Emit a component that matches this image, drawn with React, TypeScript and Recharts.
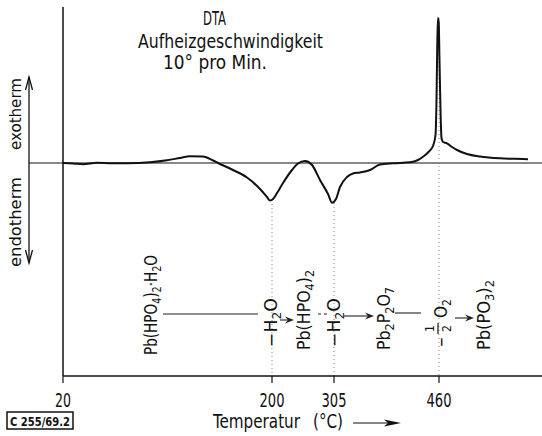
import React from 'react';
import { LineChart, Line, XAxis, YAxis, ReferenceLine, ReferenceDot } from 'recharts';

const FONT = "'Liberation Sans Narrow', 'DejaVu Sans Condensed', 'Liberation Sans', Arial, sans-serif";

// recorder chart position (pen travel, arbitrary units) - temperature scale is non-linear
const positions = [0,10,20,34,49,64,87,104,117,127,140,150,155,170,184,197,204,207,210,214,220,229,235,242,249,257,265,269,273,277,284,290,297,307,317,330,347,355,361,365,370,372.5,373.5,374.2,374.9,375.7,376.5,377.5,378.5,380,384,389,394,404,417,437,452,465];
// DTA deflection (arbitrary units, + = exotherm)
const dtaSignal = [0,-0.05,-0.13,0.03,-0.03,-0.03,0.07,0.27,0.5,0.67,0.65,0.25,0,-0.7,-1.45,-2.6,-3.4,-3.75,-3.6,-3.0,-2.0,-0.7,-0.05,0.2,-0.2,-1.7,-3.1,-3.97,-3.6,-2.4,-1.4,-1.05,-0.95,-0.7,-0.15,-0.03,0.07,0.3,0.7,1.05,1.7,2.8,6.3,11.3,14.5,14.1,10.3,5.3,2.5,2.1,1.97,1.6,1.3,0.9,0.65,0.47,0.42,0.37];

const tickPositions = [0, 209, 271, 376];
const tickLabels = ['20', '200', '305', '460'];
const tickWidths = [16, 25, 25, 25];

const transitionPositions = [209, 271, 376];
const transitionSignal = [-3.7, -4.0, 14.5];

const reactionLabels = ['Pb(HPO_4)_2·H_2O', '−H_2O', 'Pb(HPO_4)_2', '−H_2O', 'Pb_2P_2O_7', '−½O_2', 'Pb(PO_3)_2'];
const reactionPositions = [94, 214, 247, 277, 327, 384, 427];
const reactionBottoms = [-19.2, -18.4, -18.7, -18.4, -18.7, -18.4, -18.7];
const reactionLengths = [100, 49, 80, 49, 63, 49, 70];

const arrowFrom = [100, 217, 255, 281, 332, 392];
const arrowTo = [195, 231, 264, 311, 358, 411];
const arrowLevel = [-15.1, -15.7, -15.1, -15.3, -15.0, -15.5];
const arrowHead = [false, true, false, true, false, true];
const arrowDashed = [false, false, true, false, false, false];

const data = positions.map((p, i) => ({ pos: p, dta: dtaSignal[i] }));

function formulaSpans(label: string) {
  const parts = label.split(/(_.)/).filter(Boolean);
  let sub = false;
  return parts.map((p, i) => {
    if (p.startsWith('_')) {
      const el = <tspan key={i} dy={sub ? 0 : 4} fontSize={12}>{p[1]}</tspan>;
      sub = true;
      return el;
    }
    const el = <tspan key={i} dy={sub ? -4 : 0}>{p}</tspan>;
    sub = false;
    return el;
  });
}

const makeFormulaShape = (label: string, len: number) => (props: any) => {
  const { cx, cy } = props;
  if (label.includes('½')) {
    return (
      <g transform={`translate(${cx},${cy}) rotate(-90)`} fontFamily={FONT} fill="#111">
        <text x={0} y={0} fontSize={17} textLength={10} lengthAdjust="spacingAndGlyphs">−</text>
        <text x={15} y={-13} fontSize={12}>1</text>
        <line x1={13} x2={24} y1={-9} y2={-9} stroke="#111" strokeWidth={1.2} />
        <text x={15} y={4} fontSize={12}>2</text>
        <text x={29} y={0} fontSize={17}>O<tspan dy={4} fontSize={12}>2</tspan></text>
      </g>
    );
  }
  return (
    <text
      transform={`translate(${cx},${cy}) rotate(-90)`}
      fontFamily={FONT}
      fontSize={17}
      fill="#111"
      textLength={len}
      lengthAdjust="spacingAndGlyphs"
    >
      {formulaSpans(label)}
    </text>
  );
};

const makeArrowShape = (head: boolean, dashed: boolean) => (props: any) => {
  const { x1, y1, x2, y2 } = props;
  return (
    <g>
      <line x1={x1} y1={y1} x2={head ? x2 - 4 : x2} y2={y2} stroke="#222" strokeWidth={1.1} strokeDasharray={dashed ? '3 3' : undefined} />
      {head && (
        <polygon points={`${x2 - 9},${y2 - 3.5} ${x2},${y2} ${x2 - 9},${y2 + 3.5} ${x2 - 6},${y2}`} fill="#222" />
      )}
    </g>
  );
};

const TempTick = (props: any) => {
  const { x, y, payload } = props;
  const idx = tickPositions.indexOf(payload.value);
  return (
    <text x={x} y={y + 22} textAnchor="middle" fontFamily={FONT} fontSize={19} fill="#111"
      textLength={tickWidths[idx]} lengthAdjust="spacingAndGlyphs">
      {tickLabels[idx]}
    </text>
  );
};

export default function App() {
  return (
    <div style={{ position: 'absolute', left: 0, top: 0, width: 542, height: 436, background: '#fff' }}>
      <LineChart width={542} height={436} data={data} margin={{ top: 7, right: 0, bottom: 30, left: 63 }}>
        <XAxis
          type="number"
          dataKey="pos"
          domain={[0, 479]}
          ticks={tickPositions}
          tick={<TempTick />}
          tickSize={7}
          height={30}
          axisLine={{ stroke: '#111', strokeWidth: 1.5 }}
          tickLine={{ stroke: '#111', strokeWidth: 1.2 }}
          allowDataOverflow
        />
        <YAxis type="number" domain={[-21.3, 15.6]} hide allowDataOverflow />
        <ReferenceLine x={0} stroke="#111" strokeWidth={1.5} />
        <ReferenceLine y={0} stroke="#111" strokeWidth={1.2} />
        {transitionPositions.map((p, i) => (
          <ReferenceLine
            key={'t' + i}
            segment={[{ x: p, y: transitionSignal[i] }, { x: p, y: -21.3 }]}
            stroke="#888"
            strokeWidth={1}
            strokeDasharray="1 3"
          />
        ))}
        {arrowFrom.map((f, i) => (
          <ReferenceLine
            key={'a' + i}
            segment={[{ x: f, y: arrowLevel[i] }, { x: arrowTo[i], y: arrowLevel[i] }]}
            shape={makeArrowShape(arrowHead[i], arrowDashed[i])}
          />
        ))}
        {reactionLabels.map((l, i) => (
          <ReferenceDot
            key={'r' + i}
            x={reactionPositions[i]}
            y={reactionBottoms[i]}
            r={0}
            shape={makeFormulaShape(l, reactionLengths[i])}
          />
        ))}
        <Line type="monotone" dataKey="dta" stroke="#111" strokeWidth={2} dot={false} isAnimationActive={false} />
      </LineChart>
      <svg width={542} height={436} style={{ position: 'absolute', left: 0, top: 0, pointerEvents: 'none' }}>
        <g fontFamily={FONT} fill="#111">
          <text x={203} y={25} fontSize={19} textLength={23} lengthAdjust="spacingAndGlyphs">DTA</text>
          <text x={138} y={48} fontSize={19} textLength={185} lengthAdjust="spacingAndGlyphs">Aufheizgeschwindigkeit</text>
          <text x={163} y={69} fontSize={19} textLength={104} lengthAdjust="spacingAndGlyphs">10° pro Min.</text>
          <text transform="translate(21,150) rotate(-90)" fontSize={16} textLength={72} lengthAdjust="spacingAndGlyphs">exotherm</text>
          <text transform="translate(21,267) rotate(-90)" fontSize={16} textLength={90} lengthAdjust="spacingAndGlyphs">endotherm</text>
          <text x={213} y={428} fontSize={19} textLength={87} lengthAdjust="spacingAndGlyphs">Temperatur</text>
          <text x={313} y={428} fontSize={19} textLength={30} lengthAdjust="spacingAndGlyphs">(°C)</text>
          <text x={10} y={426} fontSize={13} fontWeight="bold" textLength={60} lengthAdjust="spacingAndGlyphs">C 255/69.2</text>
        </g>
        <line x1={29} x2={63} y1={163} y2={163} stroke="#111" strokeWidth={1.2} />
        <line x1={29} x2={29} y1={77} y2={263} stroke="#111" strokeWidth={1.3} />
        <polyline points="25.5,90 29,77 32.5,90" fill="none" stroke="#111" strokeWidth={1.3} />
        <polyline points="25.5,250 29,263 32.5,250" fill="none" stroke="#111" strokeWidth={1.3} />
        <line x1={353} x2={392} y1={423} y2={423} stroke="#111" strokeWidth={1.2} />
        <polygon points="384,419.5 401,423 384,426.5 388,423" fill="#111" />
        <rect x={7} y={412} width={66} height={17} fill="none" stroke="#111" strokeWidth={1.5} />
      </svg>
    </div>
  );
}
